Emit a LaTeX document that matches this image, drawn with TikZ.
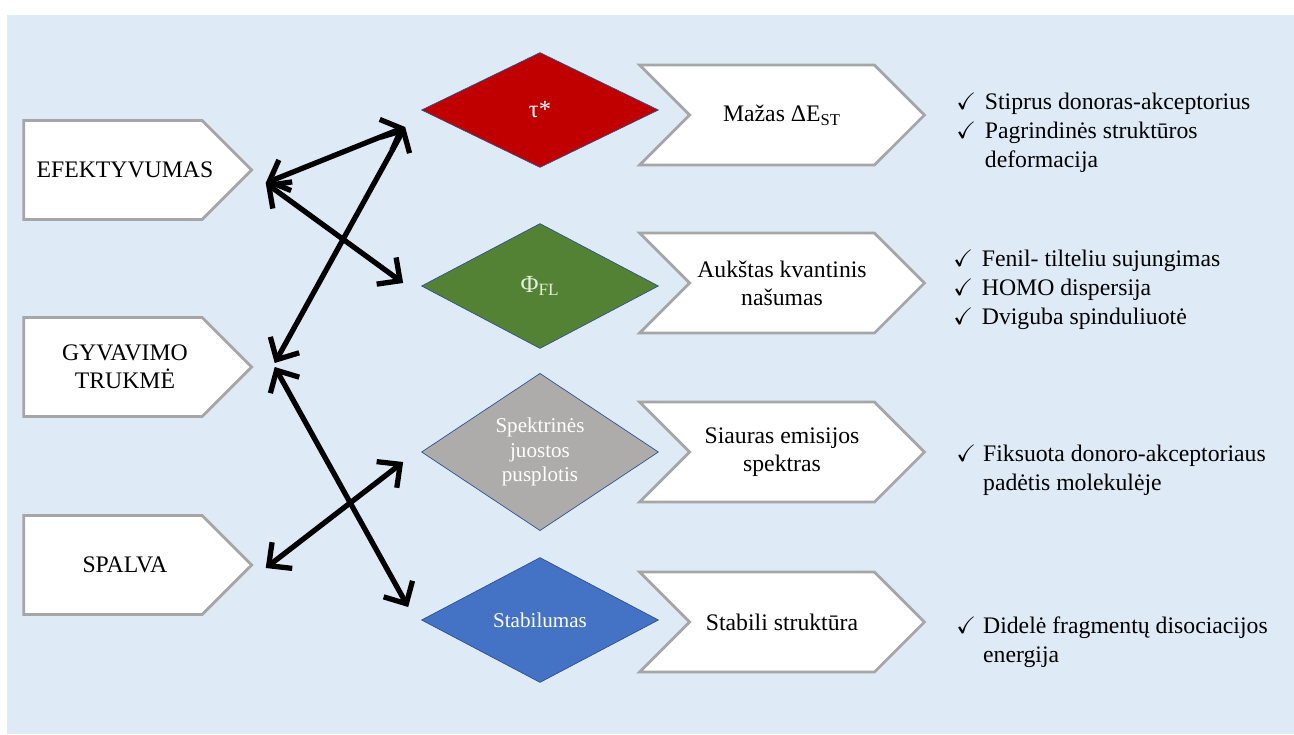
\documentclass[tikz,border=0pt]{standalone}
\usepackage{amssymb}
\usepackage{fontspec}
\setmainfont{Liberation Serif}
\usetikzlibrary{positioning,arrows.meta,calc,shapes.geometric,shapes.symbols}

\definecolor{bgblue}{HTML}{DEEAF6}
\definecolor{boxgray}{HTML}{A6A6A6}
\definecolor{taured}{HTML}{C00000}
\definecolor{phigreen}{HTML}{548235}
\definecolor{fwhmgray}{HTML}{AEABAB}
\definecolor{stabblue}{HTML}{4472C4}
\definecolor{edgeblue}{HTML}{2F528F}
\definecolor{palegreen}{HTML}{E2F0D9}

\newcommand{\chk}{$\checkmark$}
\newcommand{\rt}[1]{\hspace*{6.8pt}#1\hspace*{-6.8pt}}

\begin{document}
\begin{tikzpicture}[x=0.02cm,y=-0.02cm,
  prop/.style={shape=signal,signal to=east,draw=boxgray,line width=1.6pt,fill=white,
    minimum width=4.56cm,minimum height=1.98cm,inner sep=0pt,align=center,
    font=\fontsize{13.5}{16}\selectfont},
  cause/.style={shape=signal,signal from=west,signal to=east,draw=boxgray,line width=1.6pt,fill=white,
    minimum width=5.7cm,minimum height=2cm,inner sep=0pt,align=center,
    font=\fontsize{13.5}{16}\selectfont},
  param/.style={diamond,draw=edgeblue,line width=0.4pt,minimum width=4.74cm,minimum height=2.5cm,
    inner sep=0pt,align=center,text=white,font=\fontsize{12}{14}\selectfont},
  notes/.style={anchor=west,inner sep=0pt,align=left,font=\fontsize{13.5}{16.5}\selectfont},
  arr/.style={{Straight Barb[length=3.4mm,width=6.6mm]}-{Straight Barb[length=3.4mm,width=6.6mm]},line width=3pt}]
\useasboundingbox (0,0) rectangle (1294,734);
\fill[bgblue] (7,15) rectangle (1294,734);

\node[prop] (eff) at (113,170) {\rt{EFEKTYVUMAS}};
\node[prop] (life) at (113,367) {\rt{GYVAVIMO}\\\rt{TRUKMĖ}};
\node[prop] (col) at (113,565) {\rt{SPALVA}};

\node[param,fill=taured,minimum height=2.3cm,font=\fontsize{14}{16}\selectfont] (tau) at (540,110) {τ*};
\node[param,fill=phigreen,text=palegreen,font=\fontsize{14}{16}\selectfont] (phi) at (540,286) {Φ\textsubscript{FL}};
\node[param,fill=fwhmgray] (fwhm) at (540,452) {Spektrinės\\juostos\\pusplotis};
\node[param,fill=stabblue] (stab) at (540,620) {Stabilumas};

\node[cause] (dst) at (782,115) {Mažas ΔE\textsubscript{ST}};
\node[cause] (qy) at (782,283) {Aukštas kvantinis\\našumas};
\node[cause] (nar) at (782,452) {Siauras emisijos\\spektras};
\node[cause] (stb) at (782,622) {Stabili struktūra};

\node[notes] (dstn) at (956,133) {\begin{tabular}{@{}l@{\hspace{5pt}}l@{}}
  \chk & Stiprus donoras-akceptorius\\ \chk & Pagrindinės struktūros\\ & deformacija\end{tabular}};
\node[notes] (qyn) at (953,290) {\begin{tabular}{@{}l@{\hspace{5pt}}l@{}}
  \chk & Fenil- tilteliu sujungimas\\ \chk & HOMO dispersija\\ \chk & Dviguba spinduliuotė\end{tabular}};
\node[notes] (narn) at (956,470) {\begin{tabular}{@{}l@{\hspace{4pt}}l@{}}
  \chk & Fiksuota donoro-akceptoriaus\\ & padėtis molekulėje\end{tabular}};
\node[notes] (stbn) at (956,642) {\begin{tabular}{@{}l@{\hspace{4pt}}l@{}}
  \chk & Didelė fragmentų disociacijos\\ & energija\end{tabular}};

\draw[arr] ($(eff.east)+(12,13)$) -- ($(tau.west)+(-16,17)$);
\draw[arr] ($(eff.east)+(12,13)$) -- ($(phi.west)+(-18,-3)$);
\draw[arr] ($(tau.west)+(-16,17)$) -- ($(life.east)+(21,-4)$);
\draw[arr] ($(life.east)+(21,0)$) -- ($(stab.west)+(-13,-13)$);
\draw[arr] ($(col.east)+(12,3)$) -- ($(fwhm.west)+(-18,10)$);
\end{tikzpicture}
\end{document}
